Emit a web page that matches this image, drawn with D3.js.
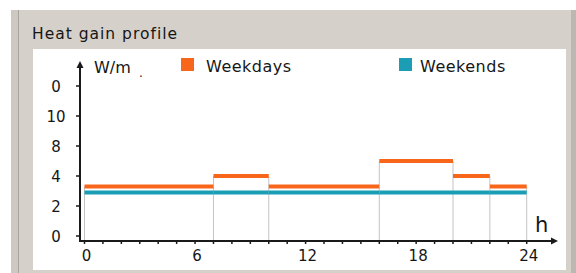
<!DOCTYPE html>
<html>
<head>
<meta charset="utf-8">
<script src="https://cdn.jsdelivr.net/npm/d3@7"></script>
<style>
  body { margin: 0; background: #fff; }
  text { font-family: "DejaVu Sans", sans-serif; fill: #161616; }
</style>
</head>
<body>
<script>
// hour breakpoints of the profile steps
var hours = [0, 7, 10, 16, 20, 22, 24];
// value for each step between two breakpoints
var weekdays = [3.3, 4, 3.3, 5, 4, 3.3];
var weekends = [2.9, 2.9, 2.9, 2.9, 2.9, 2.9];
// y ticks and the labels the panel shows for them
var yTicks = [0, 2, 4, 6, 8, 10];
var yLabels = ["0", "2", "4", "8", "10", "0"];
var xLabels = [0, 6, 12, 18, 24];
var seriesNames = ["Weekdays", "Weekends"];
var seriesColors = ["#f8661c", "#1b9db3"];

var svg = d3.select("body").append("svg").attr("width", 576).attr("height", 273);

//grey dialog frame around the white plot area
svg.append("rect").attr("x", 11).attr("y", 10).attr("width", 565).attr("height", 263).attr("fill", "#d5d1ca");
svg.append("rect").attr("x", 11).attr("y", 10).attr("width", 7).attr("height", 263).attr("fill", "#cdc9c2");
svg.append("line").attr("x1", 18.5).attr("x2", 18.5).attr("y1", 10).attr("y2", 273).attr("stroke", "#a8a59f");
svg.append("rect").attr("x", 571).attr("y", 10).attr("width", 5).attr("height", 263).attr("fill", "#bcb8b1");
svg.append("rect").attr("x", 33).attr("y", 49).attr("width", 533).attr("height", 221).attr("fill", "#fff");

svg.append("text").attr("x", 32).attr("y", 39).style("font-size", "15.5px").style("letter-spacing", "1px").text("Heat gain profile");

var x = d3.scaleLinear().domain([0, 24]).range([84.5, 526.7]);
var y = d3.scaleLinear().domain([0, 10]).range([236, 86]);
var axisY = 241;

//grey drop lines at each breakpoint
hours.forEach(function(h, i) {
  var top = Math.max(i > 0 ? weekdays[i - 1] : 0, i < weekdays.length ? weekdays[i] : 0);
  svg.append("line").attr("x1", x(h)).attr("x2", x(h))
    .attr("y1", y(top)).attr("y2", axisY + 2)
    .attr("stroke", "#c4c4c4").attr("stroke-width", 1);
});

//step segments for both series
function drawSteps(values, color) {
  svg.append("g").selectAll("line").data(values).enter().append("line")
    .attr("x1", function(d, i) { return x(hours[i]); })
    .attr("x2", function(d, i) { return x(hours[i + 1]); })
    .attr("y1", function(d) { return y(d); })
    .attr("y2", function(d) { return y(d); })
    .attr("stroke", color).attr("stroke-width", 4);
}
drawSteps(weekdays, seriesColors[0]);
drawSteps(weekends, seriesColors[1]);

//axes with arrow heads
var axisColor = "#1a1a1a";
svg.append("line").attr("x1", 80).attr("x2", 80).attr("y1", axisY + 1).attr("y2", 66).attr("stroke", axisColor).attr("stroke-width", 2);
svg.append("path").attr("d", "M80,61 L76.5,68 L83.5,68 Z").attr("fill", axisColor);
svg.append("line").attr("x1", 79).attr("x2", 553).attr("y1", axisY).attr("y2", axisY).attr("stroke", axisColor).attr("stroke-width", 2);
svg.append("path").attr("d", "M558,241 L551,237.5 L551,244.5 Z").attr("fill", axisColor);

//y ticks and labels
svg.append("g").selectAll("line").data(yTicks).enter().append("line")
  .attr("x1", 76).attr("x2", 80)
  .attr("y1", function(d) { return y(d); }).attr("y2", function(d) { return y(d); })
  .attr("stroke", axisColor).attr("stroke-width", 1.5);
svg.append("g").selectAll("text").data(yTicks).enter().append("text")
  .attr("x", 56).attr("y", function(d) { return y(d) + 6; })
  .attr("text-anchor", "middle").style("font-size", "15px")
  .text(function(d, i) { return yLabels[i]; });

//x ticks every hour, labels every 6 hours
svg.append("g").selectAll("line").data(d3.range(0, 25)).enter().append("line")
  .attr("x1", function(d) { return x(d); }).attr("x2", function(d) { return x(d); })
  .attr("y1", axisY).attr("y2", axisY + 3)
  .attr("stroke", axisColor).attr("stroke-width", 1.5);
svg.append("g").selectAll("text").data(xLabels).enter().append("text")
  .attr("x", function(d) { return x(d) + 2; }).attr("y", 261)
  .attr("text-anchor", "middle").style("font-size", "15px")
  .text(function(d) { return d; });

//axis units
svg.append("text").attr("x", 94).attr("y", 73).style("font-size", "16px").text("W/m");
svg.append("text").attr("x", 139).attr("y", 77).style("font-size", "12px").text(".");
svg.append("text").attr("x", 535).attr("y", 232).style("font-size", "21px").text("h");

//legend
var legendX = [181, 399];
seriesNames.forEach(function(name, i) {
  svg.append("rect").attr("x", legendX[i]).attr("y", 58).attr("width", 13).attr("height", 13).attr("fill", seriesColors[i]);
  svg.append("text").attr("x", legendX[i] + (i === 0 ? 25 : 21)).attr("y", 72)
    .style("font-size", "16px").style("letter-spacing", "0.5px").text(name);
});
</script>
</body>
</html>
